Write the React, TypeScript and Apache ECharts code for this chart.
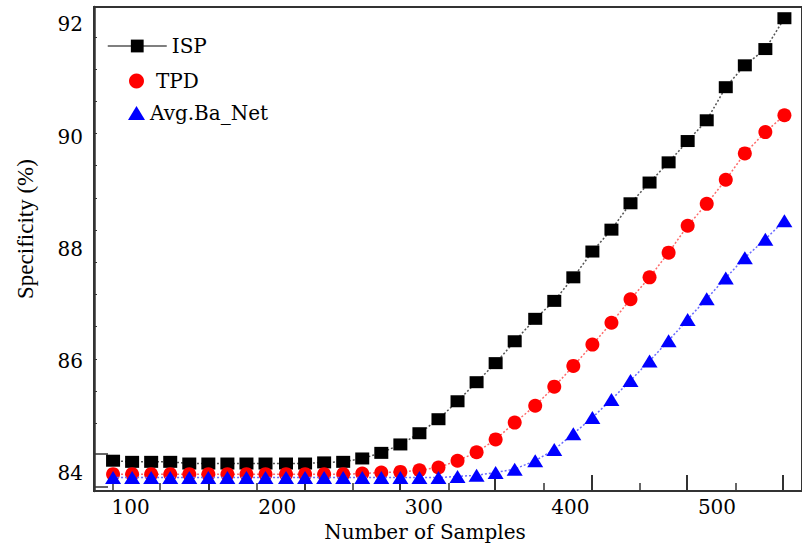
import React, { useEffect, useRef } from "react";
import * as echarts from "echarts";

// Training set sizes (x) and the specificity of each method (%)
const samples = [88, 101, 114, 127, 140, 153, 166, 179, 192, 206, 219, 232, 245, 258, 271, 284, 297, 310, 323, 336, 349, 362, 376, 389, 402, 415, 428, 441, 454, 467, 480, 493, 506, 519, 533, 546];

const isp = [84.22, 84.2, 84.2, 84.2, 84.17, 84.17, 84.17, 84.17, 84.17, 84.17, 84.17, 84.19, 84.2, 84.26, 84.36, 84.51, 84.71, 84.96, 85.28, 85.62, 85.96, 86.35, 86.75, 87.07, 87.49, 87.95, 88.34, 88.81, 89.18, 89.54, 89.92, 90.29, 90.88, 91.27, 91.56, 92.11];

const tpd = [83.98, 83.98, 83.98, 83.98, 83.98, 83.98, 83.98, 83.98, 83.98, 83.98, 83.98, 83.98, 83.98, 83.99, 84.01, 84.02, 84.05, 84.1, 84.22, 84.37, 84.6, 84.9, 85.2, 85.54, 85.91, 86.29, 86.68, 87.1, 87.49, 87.93, 88.41, 88.8, 89.23, 89.7, 90.08, 90.38];

const avgBaNet = [83.92, 83.92, 83.92, 83.92, 83.92, 83.92, 83.92, 83.92, 83.92, 83.92, 83.92, 83.92, 83.92, 83.92, 83.92, 83.92, 83.92, 83.92, 83.94, 83.96, 84.01, 84.07, 84.22, 84.42, 84.7, 84.99, 85.31, 85.65, 86.0, 86.36, 86.74, 87.11, 87.48, 87.84, 88.17, 88.5];

// Axis labels and tick marks
const xLabels = [100, 200, 300, 400, 500];
const xMajorTicks = [153.3, 218.8, 283.7, 348.5, 414.7, 479.5, 545.0];
const xMinorTicks = [87.8, 119.6, 185.8, 251.2, 316.7, 381.6, 447.1, 512.6];
const yLabels = [84, 86, 88, 90, 92];
const yMinorTicks = [84.89, 85.46, 86.03, 86.61, 87.18, 87.76, 88.33, 88.9, 89.48, 90.05, 90.63, 91.2, 91.77];
const yMajorTicks = [83.75, 84.34];

const FONT = "DejaVu Serif";

function pairs(ys: number[]) {
  return samples.map((x, i) => [x, ys[i]]);
}

export default function App() {
  const ref = useRef<HTMLDivElement>(null);

  useEffect(() => {
    if (!ref.current) return;
    const chart = echarts.init(ref.current, undefined, { renderer: "svg" });
    const axisColor = "#333";
    const xMin = 75;
    const xMax = 558;
    const yMin = 83.68;
    const yMax = 92.31;

    chart.setOption({
      animation: false,
      backgroundColor: "#fff",
      grid: {
        left: 94,
        top: 7,
        width: 715,
        height: 484,
        show: true,
        borderColor: axisColor,
        borderWidth: 2,
        containLabel: false,
      },
      legend: [
        {
          data: [{ name: "ISP", lineStyle: { type: "solid", color: "#555", width: 1.5 } }],
          left: 107,
          top: 36,
          padding: 0,
          itemWidth: 59,
          itemHeight: 16,
          selectedMode: false,
          textStyle: { fontFamily: FONT, fontSize: 20, color: "#000" },
        },
        {
          data: [{ name: "TPD", icon: "circle" }],
          left: 129,
          top: 71,
          padding: 0,
          itemWidth: 15,
          itemHeight: 15,
          selectedMode: false,
          textStyle: { fontFamily: FONT, fontSize: 20, color: "#000", padding: [0, 0, 0, 7] },
        },
        {
          data: [{ name: "Avg.Ba_Net", icon: "triangle" }],
          left: 128,
          top: 103,
          padding: 0,
          itemWidth: 17,
          itemHeight: 14,
          selectedMode: false,
          textStyle: { fontFamily: FONT, fontSize: 20, color: "#000" },
        },
      ],
      xAxis: [
        {
          type: "value",
          min: xMin,
          max: xMax,
          name: "Number of Samples",
          nameLocation: "middle",
          nameGap: 30,
          nameTextStyle: {
            fontFamily: FONT,
            fontSize: 20,
            color: "#000",
            padding: [0, 46, 0, 0],
          },
          axisLine: { show: true, lineStyle: { color: axisColor, width: 2 } },
          axisTick: {
            show: true,
            inside: true,
            length: 16,
            customValues: xMajorTicks,
            lineStyle: { color: axisColor, width: 2 },
          },
          axisLabel: {
            customValues: xLabels,
            margin: 6,
            fontFamily: FONT,
            fontSize: 20,
            color: "#000",
          },
          splitLine: { show: false },
        },
        {
          type: "value",
          min: xMin,
          max: xMax,
          position: "bottom",
          axisLine: { show: false },
          axisTick: {
            show: true,
            inside: true,
            length: 8,
            customValues: xMinorTicks,
            lineStyle: { color: axisColor, width: 1.5 },
          },
          axisLabel: { show: false },
          splitLine: { show: false },
        },
      ],
      yAxis: [
        {
          type: "value",
          min: yMin,
          max: yMax,
          name: "Specificity (%)",
          nameLocation: "middle",
          nameGap: 57,
          nameTextStyle: {
            fontFamily: "Liberation Serif",
            fontSize: 23,
            color: "#000",
            padding: [0, 0, 0, 40],
          },
          axisLine: { show: true, lineStyle: { color: axisColor, width: 2.5 } },
          axisTick: {
            show: true,
            inside: true,
            length: 3,
            customValues: yMinorTicks,
            lineStyle: { color: axisColor, width: 1 },
          },
          axisLabel: {
            customValues: yLabels,
            margin: 11,
            fontFamily: FONT,
            fontSize: 20,
            color: "#000",
          },
          splitLine: { show: false },
        },
        {
          type: "value",
          min: yMin,
          max: yMax,
          position: "left",
          axisLine: { show: false },
          axisTick: {
            show: true,
            inside: true,
            length: 14,
            customValues: yMajorTicks,
            lineStyle: { color: axisColor, width: 1.5 },
          },
          axisLabel: { show: false },
          splitLine: { show: false },
        },
      ],
      series: [
        {
          name: "ISP",
          type: "line",
          data: pairs(isp),
          symbol: "rect",
          symbolSize: [14, 12],
          itemStyle: { color: "#000" },
          lineStyle: { color: "#555", width: 1.5, type: [2, 2] },
          z: 2,
        },
        {
          name: "TPD",
          type: "line",
          data: pairs(tpd),
          symbol: "circle",
          symbolSize: 14,
          itemStyle: { color: "#ff0000" },
          lineStyle: { color: "#ff6a6a", width: 1.5, type: [2, 2] },
          z: 3,
        },
        {
          name: "Avg.Ba_Net",
          type: "line",
          data: pairs(avgBaNet),
          symbol: "triangle",
          symbolSize: [16, 13],
          itemStyle: { color: "#0000ff" },
          lineStyle: { color: "#6a6aff", width: 1.5, type: [2, 2] },
          z: 4,
        },
      ],
    });

    return () => chart.dispose();
  }, []);

  return (
    <div
      ref={ref}
      style={{ position: "absolute", left: 0, top: 0, width: 802, height: 547, background: "#fff" }}
    />
  );
}
